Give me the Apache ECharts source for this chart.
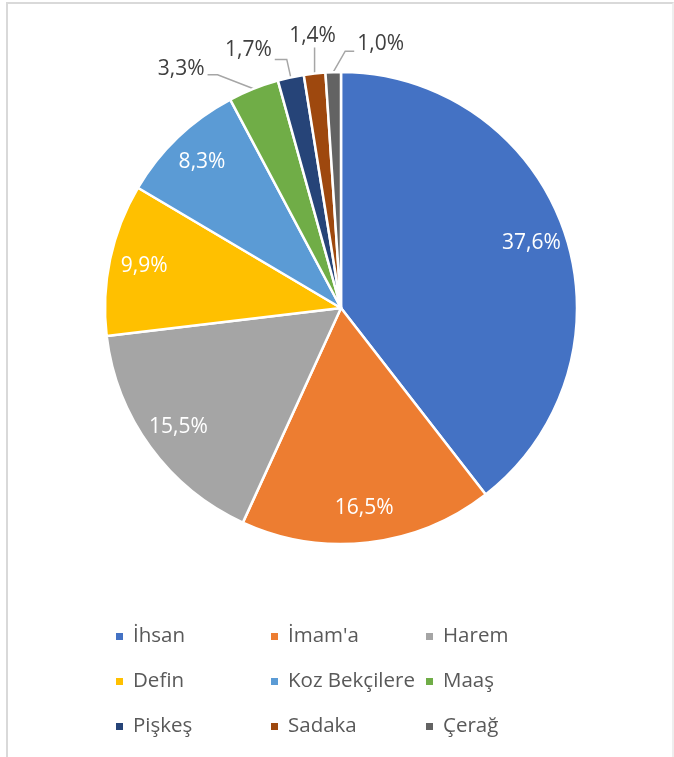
<!DOCTYPE html>
<html><head><meta charset="utf-8">
<script src="https://cdn.jsdelivr.net/npm/echarts@6/dist/echarts.min.js"></script>
<style>
html,body{margin:0;padding:0;background:#fff;}
#frame{position:absolute;left:6px;top:2px;width:668px;height:770px;border:2px solid #D9D9D9;border-right-color:#EEEEEE;box-sizing:border-box;}
#chart{position:absolute;left:0;top:0;width:674px;height:757px;}
</style></head>
<body>
<div id="frame"></div>
<div id="chart"></div>
<script>
// ---- data ----
const categories = ["İhsan", "İmam'a", "Harem", "Defin", "Koz Bekçilere", "Maaş", "Pişkeş", "Sadaka", "Çerağ"];
const shares = [37.6, 16.5, 15.5, 9.9, 8.3, 3.3, 1.7, 1.4, 1.0];

// ---- styles ----
const palette = ['#4472C4', '#ED7D31', '#A5A5A5', '#FFC000', '#5B9BD5', '#70AD47', '#264478', '#9E480E', '#636363'];
const insideMin = 5; // shares above this get labels inside the slice
const FONT = "'Open Sans', 'Noto Sans', sans-serif";
// leader-line shape (relative offsets from the slice edge) for the small slices
const leaderShape = {
  'Maaş':   { bend: [-36, -14], run: -10, dy: -6 },
  'Pişkeş': { bend: [-4, -18],  run: -12, dy: -9 },
  'Sadaka': { bend: [0, -26],   run: 0,   dy: 0 },
  'Çerağ':  { bend: [12, -21],  run: 9,   dy: -7 }
};

const fmt = p => p.value.toFixed(1).replace('.', ',') + '%';
const CENTER = [341, 308];
const R = 236;

const mainData = categories.map((name, i) => ({
  name: name,
  value: shares[i],
  itemStyle: { color: palette[i] },
  label: { show: shares[i] <= insideMin },
  labelLine: { show: shares[i] <= insideMin }
}));
const overlayData = categories.map((name, i) => ({
  name: name,
  value: shares[i],
  label: { show: shares[i] > insideMin }
}));

const chart = echarts.init(document.getElementById('chart'), null, { renderer: 'canvas' });
chart.setOption({
  animation: false,
  legend: {
    data: categories,
    left: 114,
    top: 617,
    width: 480,
    padding: 0,
    icon: 'path://M0,0H10V10H0Z',
    itemWidth: 17,
    itemHeight: 9,
    itemGap: 6,
    selectedMode: false,
    textStyle: { fontFamily: FONT, fontSize: 20.5, color: '#595959', width: 130, lineHeight: 39 }
  },
  series: [
    {
      type: 'pie',
      center: CENTER,
      radius: R,
      startAngle: 90,
      clockwise: true,
      avoidLabelOverlap: false,
      data: mainData,
      itemStyle: { borderColor: '#fff', borderWidth: 2.5 },
      emphasis: { disabled: true },
      label: { position: 'outside', formatter: fmt, fontFamily: FONT, fontSize: 21, color: '#404040' },
      labelLine: { length: 20, length2: 10, lineStyle: { color: '#A6A6A6', width: 1.5 } },
      labelLayout: function (params) {
        const name = categories[params.dataIndex];
        const s = leaderShape[name];
        if (!s || !params.labelLinePoints) return {};
        const p0 = params.labelLinePoints[0];
        const p1 = [p0[0] + s.bend[0], p0[1] + s.bend[1]];
        const p2 = [p1[0] + s.run, p1[1]];
        const out = { labelLinePoints: [p0, p1, p2] };
        if (s.run < 0) {
          out.x = p2[0] - 3; out.y = p2[1] + s.dy; out.align = 'right'; out.verticalAlign = 'middle';
        } else if (s.run > 0) {
          out.x = p2[0] + 3; out.y = p2[1] + s.dy; out.align = 'left'; out.verticalAlign = 'middle';
        } else {
          out.x = p2[0] - 2; out.y = p2[1] - 1; out.align = 'center'; out.verticalAlign = 'bottom';
        }
        return out;
      }
    },
    {
      type: 'pie',
      center: CENTER,
      radius: [R * 0.68, R],
      startAngle: 90,
      clockwise: true,
      silent: true,
      legendHoverLink: false,
      avoidLabelOverlap: false,
      data: overlayData,
      itemStyle: { color: 'rgba(0,0,0,0)', borderWidth: 0 },
      emphasis: { disabled: true },
      label: { position: 'inside', formatter: fmt, fontFamily: FONT, fontSize: 21, color: '#ffffff' },
      labelLine: { show: false }
    }
  ]
});
</script>
</body></html>
